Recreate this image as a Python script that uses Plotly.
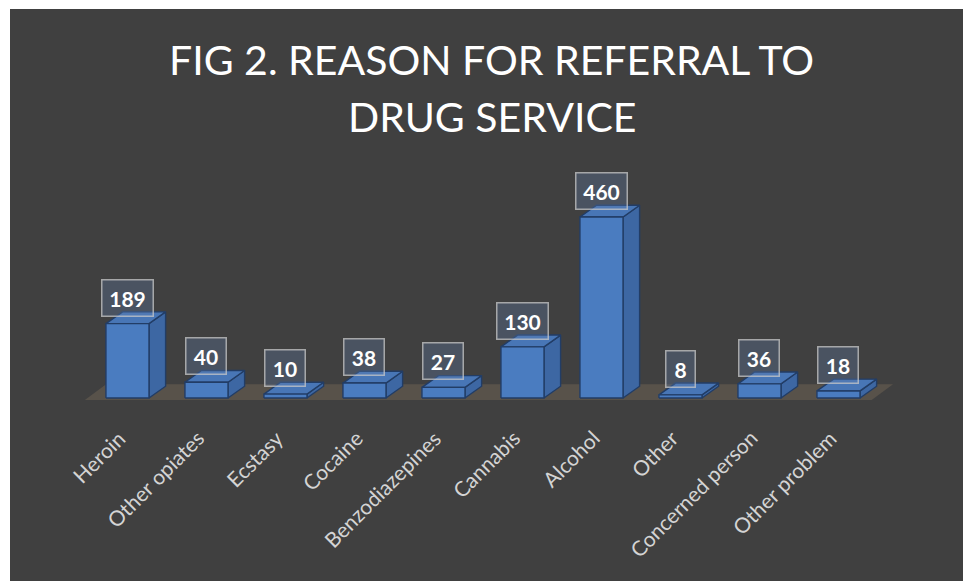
import plotly.graph_objects as go

# Referral reasons and counts
categories = ["Heroin", "Other opiates", "Ecstasy", "Cocaine", "Benzodiazepines",
              "Cannabis", "Alcohol", "Other", "Concerned person", "Other problem"]
counts = [189, 40, 10, 38, 27, 130, 460, 8, 36, 18]
title_lines = ["FIG 2. REASON FOR REFERRAL TO", "DRUG SERVICE"]

# Styling / geometry of the pseudo-3D columns (category units on x, value units on y)
BAR_W = 0.545
DEPTH_X = 0.21
DEPTH_Y = 30
FRONT = "#4a7cc0"
SIDE = "#3d67a3"
TOP = "#4876b6"
EDGE = "#223d66"
FLOOR = "#58524a"
BG = "#404040"
FONT = "Lato"

fig = go.Figure()


def poly(xs, ys, fill, line_color=EDGE, width=1.4):
    fig.add_trace(go.Scatter(
        x=xs + [xs[0]], y=ys + [ys[0]], mode="lines", fill="toself",
        fillcolor=fill, line=dict(color=line_color, width=width),
        hoverinfo="skip", showlegend=False))


# Floor slab under the columns
n = len(categories)
fx0, fx1 = -0.54, n - 1 + 0.42
fy = -5
poly([fx0, fx1, fx1 + 0.27, fx0 + 0.27], [fy, fy, fy + 40, fy + 40], FLOOR,
     line_color=FLOOR, width=0)

# Columns: side, top, front faces
for i, v in enumerate(counts):
    x0, x1 = i - BAR_W / 2, i + BAR_W / 2
    poly([x1, x1 + DEPTH_X, x1 + DEPTH_X, x1], [0, DEPTH_Y, v + DEPTH_Y, v], SIDE)
    poly([x0, x1, x1 + DEPTH_X, x0 + DEPTH_X], [v, v, v + DEPTH_Y, v + DEPTH_Y], TOP)
    poly([x0, x1, x1, x0], [0, 0, v, v], FRONT)

annotations = []

# Value labels in boxes above each column
for i, v in enumerate(counts):
    txt = str(v)
    annotations.append(dict(
        x=i, y=v, xref="x", yref="y", text=f"<b>{txt}</b>", showarrow=False,
        xanchor="center", yanchor="bottom", yshift=7,
        width=17 + 11 * len(txt), height=35, borderpad=0,
        font=dict(family=FONT, size=21, color="white"),
        bgcolor="rgba(100,130,175,0.30)", bordercolor="rgba(200,200,200,0.75)",
        borderwidth=1.5))

# Rotated category labels
for i, c in enumerate(categories):
    annotations.append(dict(
        x=i, y=-62, xref="x", yref="y", text=c, showarrow=False,
        xanchor="right", yanchor="top", textangle=-45, xshift=5,
        font=dict(family=FONT, size=21, color="#d4d4d4")))

# Two-line title
for k, line in enumerate(title_lines):
    annotations.append(dict(
        x=492 / 963, y=1 - (59 + 58 * k) / 581, xref="paper", yref="paper",
        text=line, showarrow=False, xanchor="center", yanchor="middle",
        font=dict(family=FONT, size=41, color="white")))

fig.update_layout(
    width=963, height=581,
    margin=dict(l=0, r=0, t=0, b=0),
    paper_bgcolor="white", plot_bgcolor=BG,
    xaxis=dict(domain=[10 / 963, 1], range=[-1.487, 10.576], visible=False,
               fixedrange=True),
    yaxis=dict(domain=[0, 572 / 581], range=[-465, 988.6], visible=False,
               fixedrange=True),
    annotations=annotations,
    showlegend=False,
)

fig.write_html("out.html")
